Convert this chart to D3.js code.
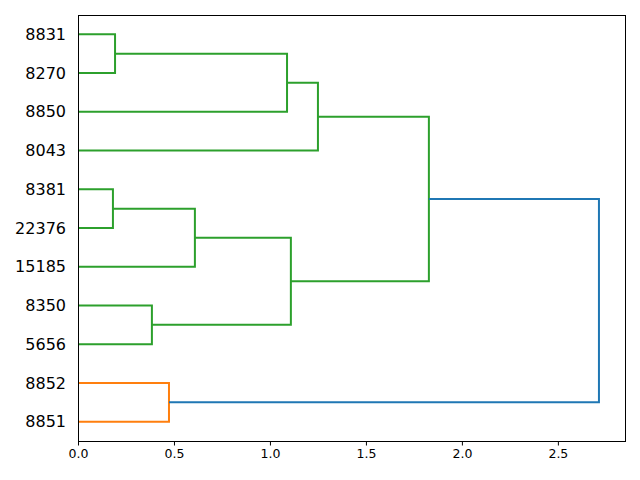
<!DOCTYPE html>
<html>
<head>
<meta charset="utf-8">
<script src="https://cdn.jsdelivr.net/npm/d3@7"></script>
<style>
  html, body { margin: 0; padding: 0; background: #fff; }
  svg { display: block; }
  text { font-family: "DejaVu Sans", sans-serif; }
</style>
</head>
<body>
<svg id="chart" width="640" height="480"></svg>
<script>
// Leaf labels, in leaf order from bottom to top
const leafLabels = ["8851", "8852", "5656", "8350", "15185", "22376", "8381", "8043", "8850", "8270", "8831"];
// Merges: [child A, child B, distance]; leaves are 0..10, clusters 11.. in merge order
const mergeLeft  = [10, 6, 3, 1, 12, 11, 16, 15, 17, 19];
const mergeRight = [9, 5, 2, 0, 4, 8, 7, 13, 18, 14];
const mergeDist  = [0.193, 0.182, 0.385, 0.474, 0.609, 1.089, 1.25, 1.109, 1.828, 2.714];
const xTicks = [0, 0.5, 1.0, 1.5, 2.0, 2.5];
const palette = ["#ff7f0e", "#2ca02c"];
const aboveColor = "#1f77b4";

const svg = d3.select("#chart");
const L = 78, R = 625, T = 15, B = 441;
const n = leafLabels.length;
const maxD = d3.max(mergeDist);

const x = d3.scaleLinear().domain([0, maxD * 1.05]).range([L, R]);
const y = d3.scaleLinear().domain([0, n * 10]).range([B, T]);

// node positions
const nodeY = [], nodeD = [];
leafLabels.forEach((l, i) => { nodeY[i] = 5 + 10 * i; nodeD[i] = 0; });
mergeDist.forEach((d, k) => {
  const a = mergeLeft[k], b = mergeRight[k];
  nodeY[n + k] = (nodeY[a] + nodeY[b]) / 2;
  nodeD[n + k] = d;
});

// colors
const threshold = 0.7 * maxD;
const nodeColor = [];
let pi = 0;
// assign colors to highest clusters below threshold, in leaf order (bottom first)
function assign(node, inherited) {
  if (node < n) return;
  const k = node - n;
  let c = inherited;
  if (c == null && mergeDist[k] < threshold) { c = palette[pi % palette.length]; pi++; }
  nodeColor[node] = c == null ? aboveColor : c;
  const kids = [mergeLeft[k], mergeRight[k]].sort((p, q) => nodeY[p] - nodeY[q]);
  kids.forEach(ch => assign(ch, c));
}
assign(n + mergeDist.length - 1, null);

// links
const links = mergeDist.map((d, k) => ({ k, a: mergeLeft[k], b: mergeRight[k], d }));
svg.append("g").selectAll("path").data(links).join("path")
  .attr("fill", "none")
  .attr("stroke", l => nodeColor[n + l.k])
  .attr("stroke-width", 2)
  .attr("d", l => {
    const p = d3.path();
    p.moveTo(x(nodeD[l.a]), y(nodeY[l.a]));
    p.lineTo(x(l.d), y(nodeY[l.a]));
    p.lineTo(x(l.d), y(nodeY[l.b]));
    p.lineTo(x(nodeD[l.b]), y(nodeY[l.b]));
    return p.toString();
  });

// frame
svg.append("rect").attr("x", L).attr("y", T).attr("width", R - L).attr("height", B - T)
  .attr("fill", "none").attr("stroke", "#000").attr("stroke-width", 1)
  .attr("shape-rendering", "crispEdges");

// x axis
const xAxis = d3.axisBottom(x).tickValues(xTicks).tickFormat(d3.format(".1f")).tickSizeOuter(0).tickSize(4.5).tickPadding(3.5);
const gx = svg.append("g").attr("transform", `translate(0,${B})`).call(xAxis);
gx.select(".domain").remove();
gx.selectAll("text").attr("font-size", 12.5).attr("fill", "#000").attr("font-family", "DejaVu Sans");
gx.selectAll("line").attr("stroke", "#000");

// y labels
const yAxis = d3.axisLeft(y).tickValues(leafLabels.map((l, i) => 5 + 10 * i))
  .tickFormat((d, i) => leafLabels[i]).tickSize(0).tickPadding(12);
const gy = svg.append("g").attr("transform", `translate(${L},0)`).call(yAxis);
gy.select(".domain").remove();
gy.selectAll("text").attr("font-size", 16).attr("fill", "#000").attr("font-family", "DejaVu Sans");
</script>
</body>
</html>
